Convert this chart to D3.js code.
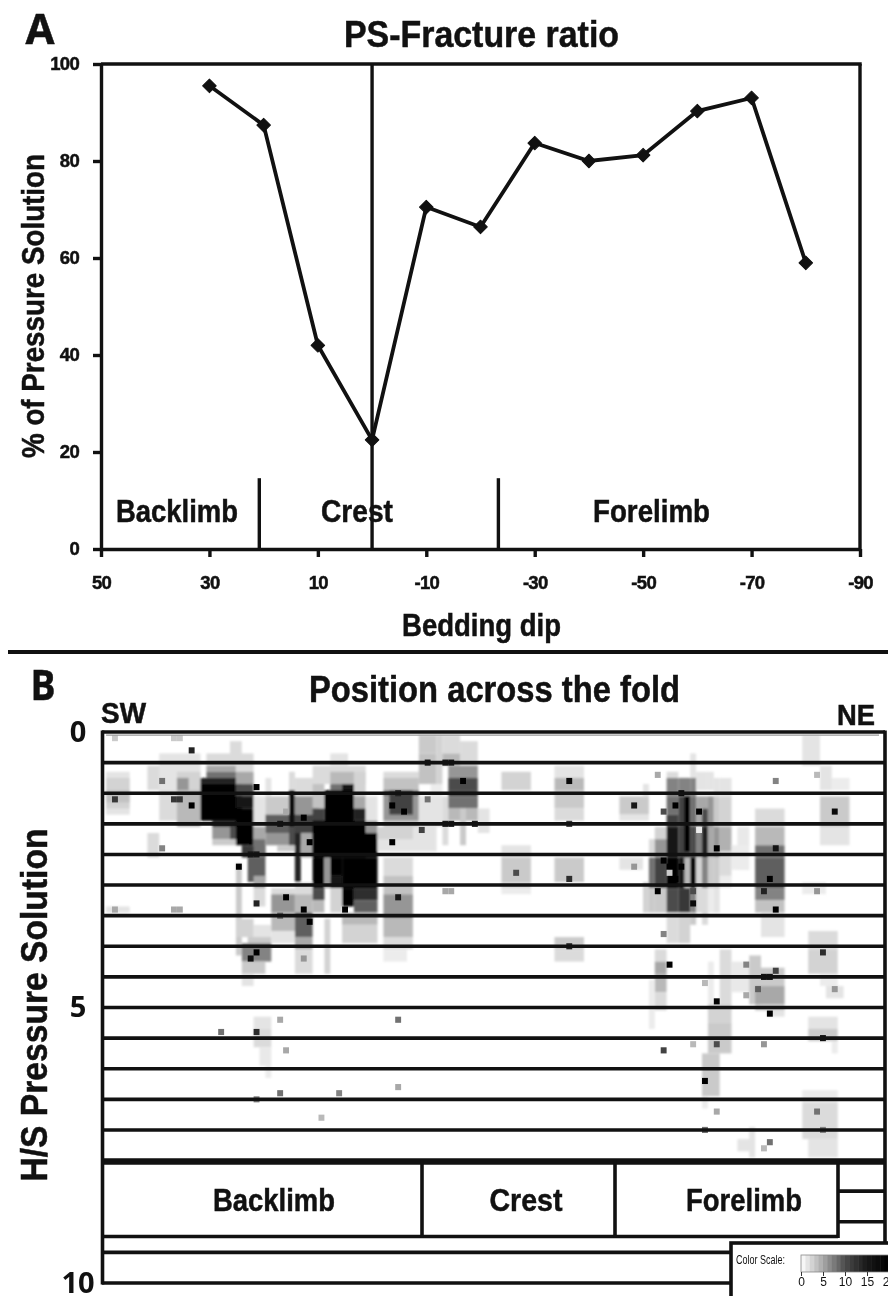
<!DOCTYPE html>
<html>
<head>
<meta charset="utf-8">
<script src="https://d3js.org/d3.v7.min.js"></script>
<style>
  html, body { margin: 0; padding: 0; background: #fff; }
  svg { display: block; filter: blur(0.4px); }
  text { font-family: "Liberation Sans", Arial, sans-serif; font-weight: bold; fill: #111; }
</style>
</head>
<body>
<div id="chart"></div>
<script>
// panel A
var dipValues = [30, 20, 10, 0, -10, -20, -30, -40, -50, -60, -70, -80];
var psPercent = [95.5, 87.4, 42, 22.5, 70.5, 66.4, 83.7, 80, 81.2, 90.3, 93, 59];
var dipTicks = [50, 30, 10, -10, -30, -50, -70, -90];
var percentTicks = [0, 20, 40, 60, 80, 100];
var limbBreaks = [20.8, -23.3];

// panel B, cells of the grid: first col, last col, first row, last row, count
var densityRuns = [
  [0,3,7,13,1.5],[0,3,8,12,2.5],[0,3,10,11,3.5],[0,3,29,29,1.5],
  [7,12,6,9,2],[9,15,4,9,1.5],[9,12,10,14,2],[12,15,7,9,2.5],[12,13,8,9,6],[12,15,10,15,4],[7,8,17,20,2],
  [21,22,2,5,2],[17,21,4,5,2],[17,21,6,6,5],[17,21,7,7,8],[16,22,8,8,14],
  [18,23,15,15,14],[18,23,16,17,6],[18,23,18,18,3],[21,22,16,17,10],
  [16,22,9,14,20],
  [22,24,4,6,2],[22,24,7,8,5],[22,24,9,10,10],[22,24,11,12,15],[22,24,13,18,20],[23,26,19,20,12],
  [25,26,11,15,1.5],[25,26,16,17,5],[25,26,18,20,8],[24,26,21,24,9],[25,26,24,25,5],[25,26,26,28,2],
  [22,22,22,36,3],[25,27,32,34,1.5],[22,24,31,33,2.5],[24,27,34,35,3],[23,27,35,37,7],[23,26,38,39,3],[23,24,40,41,1.5],
  [27,27,8,10,1.5],
  [27,30,11,13,3],[27,30,14,16,9],[27,30,17,18,6],[29,31,19,19,3],
  [31,31,7,9,2],[31,31,10,15,18],[31,32,16,18,10],
  [32,35,8,10,2],[32,35,11,13,6],[32,35,14,16,11],[32,32,17,24,14],[33,35,17,20,5],
  [28,31,26,26,2],[28,31,27,29,6],[28,31,30,32,4],[28,31,33,34,1.5],
  [32,34,25,26,2],[32,34,27,29,4],[32,34,30,33,9],[32,34,34,35,5],[32,34,36,39,2],
  [38,40,4,5,1.5],[35,43,6,8,2],[38,41,7,8,4],[38,41,9,9,8],[40,41,9,10,15],
  [42,43,7,10,2.5],[42,43,11,12,5],[42,43,13,14,14],[44,45,11,14,1.5],[44,45,15,16,6],[44,45,17,17,13],
  [35,36,9,12,3.5],[35,36,13,15,11],
  [37,41,10,15,20],[35,43,15,20,20],[35,45,17,20,20],
  [35,36,21,25,20],[37,37,21,25,6],[38,39,21,23,20],[38,39,24,25,15],[40,45,21,25,20],
  [35,36,26,27,10],[35,36,28,29,4],[40,41,26,28,20],[42,45,26,27,13],[42,45,28,29,9],
  [40,45,30,31,4],[40,45,32,34,2.5],[38,39,26,29,2.5],[37,37,31,39,2.5],
  [47,52,7,7,2],[47,52,8,9,3.5],[47,52,10,10,8],[47,52,11,14,6],[48,51,10,13,11],[47,52,15,15,3],
  [46,55,16,19,1.5],[46,51,16,17,2.5],
  [47,51,21,23,2],[47,51,24,26,3.5],[47,51,27,30,6],[47,51,31,33,4],[47,51,34,35,2],[47,50,36,37,1],
  [53,55,1,3,3],[53,55,4,8,3.5],[56,56,1,8,2.5],[55,56,9,10,1],
  [57,59,1,3,2],[57,59,4,5,4],[60,62,2,5,2],
  [53,56,11,15,1.5],[57,57,11,18,2],[63,64,13,16,1.5],
  [58,62,6,7,6],[58,62,8,9,10],[58,62,10,10,11],[58,62,11,12,8],[58,62,13,14,4],[60,60,13,18,3],
  [67,71,7,9,2.5],[67,71,19,20,1.5],[67,71,21,24,3],[67,71,25,25,2],[67,71,26,26,1],
  [76,80,6,7,1.5],[76,80,8,9,4],[76,80,10,12,3],[76,80,13,14,2],[76,80,21,24,3],[76,80,34,35,3],[76,80,36,37,2],
  [87,91,11,13,3],[87,91,14,14,1.5],[91,91,9,10,1.5],[87,90,21,22,1.5],
  [91,91,25,29,2.5],
  [92,92,18,20,2],[92,92,21,25,8],[92,92,26,29,3],
  [93,94,16,17,2.5],[93,94,18,20,6],[93,94,21,25,11],[93,94,26,29,3],
  [95,96,7,7,2],[95,96,8,10,7],[95,96,11,13,8],[95,96,14,15,11],[95,96,16,20,16],[95,96,21,25,20],[95,96,26,29,10],[95,96,30,34,2],
  [97,98,8,10,7],[97,98,11,15,11],[97,98,16,20,11],[97,98,21,25,16],[97,98,26,29,12],[97,98,30,34,2.5],
  [98,98,11,19,20],[98,98,21,25,4],
  [99,99,4,7,1.5],[99,99,8,10,7],[99,99,11,15,8],[99,99,16,20,10],[99,99,21,25,18],[99,99,26,29,7],[99,99,30,31,3],
  [100,100,7,9,1.5],[100,100,11,15,5],[100,100,16,20,7],[100,100,21,25,2.5],[100,100,26,29,2],
  [101,101,7,9,1.5],[101,101,11,12,5],[101,101,13,15,10],[101,101,16,20,14],[101,101,21,25,7],[101,101,26,31,2],
  [102,102,7,9,1.5],[102,102,11,15,6],[102,102,16,20,5],[102,102,21,25,3],[102,102,26,29,1],
  [103,103,8,10,1.5],[103,103,11,15,3],[103,103,16,20,6],[103,103,21,25,3],[103,103,26,29,1.5],
  [104,105,8,10,1.5],[104,105,11,15,2.5],[104,105,16,19,4.5],[104,105,20,23,2],[104,105,24,25,1],
  [107,108,16,22,1.2],[106,108,19,22,1],
  [110,114,13,15,2],[110,114,16,18,4],[110,114,19,20,8],[110,114,21,25,9],[110,114,26,27,7],[110,114,28,29,3.5],[111,114,30,33,1.5],
  [118,120,1,5,1.5],[121,122,6,9,1.5],[123,125,8,9,1],[121,125,11,15,3],[121,125,16,18,1.5],[118,121,25,26,1],
  [119,123,33,35,2],[119,123,36,39,2.5],[121,123,40,41,1],[122,124,42,43,1.5],
  [93,94,36,37,2],[93,94,38,39,5],[93,94,40,42,4],[93,94,43,45,2],[92,92,41,48,1],
  [102,102,38,45,1],[104,105,36,45,2],[106,109,38,42,1.2],[109,110,37,44,3],
  [110,114,39,41,3],[110,114,42,44,5],[110,114,45,45,3],[112,114,46,46,1.5],
  [119,123,47,48,1.5],[119,123,49,50,3],[123,123,51,52,1],
  [102,105,45,47,2.5],[102,105,48,52,3],[101,103,53,59,3],[101,101,60,61,1],
  [25,27,47,48,1.5],[25,27,49,51,2],[26,27,52,54,1.2],[27,27,55,56,1],
  [118,123,59,60,1],[118,123,61,66,2],[119,123,67,69,1.5],
  [109,109,65,69,1.5],[107,109,67,68,1.5]
];

// single samples: col, row, count
var sampleCells = [
  [1,1,3],[11,1,3],[12,1,3],[14,3,14],[9,8,8],[1,11,12],[11,11,12],[12,11,12],[14,12,20],[25,9,20],
  [30,13,5],[33,14,20],[29,15,16],[34,18,20],[9,19,7],[24,20,15],[25,20,15],[22,22,20],
  [1,29,5],[11,29,5],[12,29,5],[25,28,14],[30,27,20],[33,29,20],[34,31,20],[40,29,20],[29,30,9],
  [25,36,20],[24,37,17],[33,37,6],[48,12,20],[50,13,20],[49,10,14],[48,18,20],[53,16,11],[54,11,8],
  [54,5,16],[57,5,15],[58,5,15],[60,8,20],[57,15,15],[58,15,15],[62,15,15],[49,27,15],[57,26,5],[58,26,5],
  [78,8,18],[78,15,12],[78,24,13],[69,23,10],[78,35,14],[89,12,15],[89,22,6],[93,7,5],[94,13,10],
  [96,12,20],[97,10,18],[100,13,20],[100,16,1],[103,19,20],[94,21,20],[95,22,20],[97,22,20],[95,23,3],
  [96,24,20],[93,26,20],[99,28,18],[99,26,10],[94,33,7],[95,38,20],[113,8,7],[113,19,16],[112,24,20],
  [111,26,14],[113,29,20],[120,26,6],[120,7,4],[123,13,18],[121,36,13],[108,38,7],[113,39,11],[112,40,16],[111,40,16],
  [101,41,4],[108,43,5],[123,42,6],[110,42,9],[103,44,19],[112,46,20],
  [29,47,5],[49,47,8],[19,49,8],[25,49,13],[30,52,5],[94,52,11],[99,51,4],[103,51,10],[111,51,6],[121,50,16],
  [101,57,20],[29,59,8],[39,59,7],[49,58,5],[25,60,7],[36,63,4],[103,62,5],[120,62,8],[101,65,8],[121,65,7],
  [112,67,8],[111,68,4]
];

var hsTicks = [0, 5, 10];
var rowLines = [0,5,10,15,20,25,30,35,40,45,50,55,60,65];
var limbNames = ["Backlimb", "Crest", "Forelimb"];
var scaleStops = [0, 1, 5, 10, 15, 20];
var scaleGrays = ["#ffffff", "#ececec", "#a8a8a8", "#4c4c4c", "#181818", "#000000"];
var scaleTicks = [0, 5, 10, 15, 20];

var width = 888, height = 1296, ink = "#111";

var svg = d3.select("#chart").append("svg")
  .attr("width", width)
  .attr("height", height);

var defs = svg.append("defs");
defs.append("filter").attr("id", "soft").append("feGaussianBlur").attr("stdDeviation", 1.1);

// real text, width forced to what the picture has
function label(str, x, y, size, len, rotate, family) {
  var t = svg.append("text")
    .attr("transform", "translate(" + x + "," + y + ")" + (rotate ? " rotate(-90)" : ""))
    .attr("text-anchor", "middle")
    .attr("font-size", size)
    .attr("textLength", len)
    .attr("lengthAdjust", "spacingAndGlyphs")
    .attr("stroke", ink)
    .attr("stroke-width", 0.5)
    .text(str);
  if (family) t.style("font-family", family);
  return t;
}

/* ---------- panel A ---------- */
var xDip = d3.scaleLinear().domain([50, -90]).range([101, 860]);
var yPct = d3.scaleLinear().domain([0, 100]).range([549, 64]);

var xAxisA = svg.append("g")
  .attr("transform", "translate(0," + yPct(0) + ")")
  .call(d3.axisBottom(xDip).tickValues(dipTicks).tickFormat(String).tickSize(8).tickPadding(19).tickSizeOuter(0));

var yAxisA = svg.append("g")
  .attr("transform", "translate(" + xDip(50) + ",0)")
  .call(d3.axisLeft(yPct).tickValues(percentTicks).tickSize(8).tickPadding(14).tickSizeOuter(0));

[xAxisA, yAxisA].forEach(function(ax) {
  ax.selectAll("path, line").attr("stroke", ink).attr("stroke-width", 3.4);
  ax.selectAll("text").attr("font-size", 18.5).attr("fill", ink)
    .attr("stroke", ink).attr("stroke-width", 0.5).attr("letter-spacing", -0.7)
    .style("font-family", '"Liberation Sans", Arial, sans-serif').style("font-weight", "bold");
});

// frame and dividers
var frameA = svg.append("g").attr("stroke", ink).attr("stroke-width", 3.4);
frameA.append("line").attr("x1", xDip(50)).attr("x2", xDip(-90) + 1.7).attr("y1", yPct(100)).attr("y2", yPct(100));
frameA.append("line").attr("x1", xDip(-90)).attr("x2", xDip(-90)).attr("y1", yPct(100)).attr("y2", yPct(0));
frameA.append("line").attr("x1", xDip(0)).attr("x2", xDip(0)).attr("y1", yPct(100)).attr("y2", yPct(0));
frameA.selectAll(".limb").data(limbBreaks).enter().append("line")
  .attr("class", "limb")
  .attr("x1", function(d) { return xDip(d); })
  .attr("x2", function(d) { return xDip(d); })
  .attr("y1", yPct(14.6))
  .attr("y2", yPct(0));

var linePts = dipValues.map(function(d, i) { return [d, psPercent[i]]; });
var psLine = d3.line()
  .x(function(d) { return xDip(d[0]); })
  .y(function(d) { return yPct(d[1]); });

svg.append("path")
  .attr("d", psLine(linePts))
  .attr("fill", "none")
  .attr("stroke", ink)
  .attr("stroke-width", 3.8);

svg.selectAll(".marker").data(linePts).enter().append("path")
  .attr("class", "marker")
  .attr("d", d3.symbol().type(d3.symbolSquare).size(92))
  .attr("transform", function(d) { return "translate(" + xDip(d[0]) + "," + yPct(d[1]) + ") rotate(45)"; })
  .attr("fill", ink)
  .attr("stroke", ink)
  .attr("stroke-width", 1)
  .attr("stroke-linejoin", "round");

label("A", 40, 44, 41, 29, false, '"Open Sans", sans-serif');
label("PS-Fracture ratio", 481.5, 47, 36, 275);
label("% of Pressure Solution", 44, 306, 31, 304, true);
label("Backlimb", 177, 522, 31, 122);
label("Crest", 357, 522, 31, 72);
label("Forelimb", 651.5, 522, 31, 117);
label("Bedding dip", 481.5, 636, 30.5, 159);

// rule between the panels
svg.append("line").attr("x1", 8).attr("x2", width).attr("y1", 652).attr("y2", 652)
  .attr("stroke", ink).attr("stroke-width", 3.8);

/* ---------- panel B ---------- */
var xCol = d3.scaleLinear().domain([0, 131]).range([106.1, 879]);
var yRow = d3.scaleLinear().domain([0, 90]).range([732, 1283]);
var yHS = d3.scaleLinear().domain([0, 10]).range([732, 1283]);
var gray = d3.scaleLinear().domain(scaleStops).range(scaleGrays).clamp(true);

var heat = svg.append("g").attr("filter", "url(#soft)");

heat.selectAll(".run").data(densityRuns).enter().append("rect")
  .attr("class", "run")
  .attr("x", function(d) { return xCol(d[0]); })
  .attr("width", function(d) { return xCol(d[1] + 1) - xCol(d[0]); })
  .attr("y", function(d) { return yRow(d[2] - 0.5); })
  .attr("height", function(d) { return yRow(d[3] + 0.5) - yRow(d[2] - 0.5); })
  .attr("fill", function(d) { return gray(d[4]); });

var dots = svg.append("g");
dots.selectAll(".sample").data(sampleCells).enter().append("rect")
  .attr("class", "sample")
  .attr("x", function(d) { return xCol(d[0]); })
  .attr("width", xCol(1) - xCol(0))
  .attr("y", function(d) { return yRow(d[1] - 0.5); })
  .attr("height", yRow(1) - yRow(0))
  .attr("fill", function(d) { return gray(d[2]); });

// thin gray line under the top border
svg.append("line").attr("x1", xCol(0)).attr("x2", xCol(131)).attr("y1", yRow(0.5)).attr("y2", yRow(0.5))
  .attr("stroke", "#9a9a9a").attr("stroke-width", 1.3);

var frameB = svg.append("g").attr("stroke", ink).attr("stroke-width", 3.6).attr("fill", "none");
frameB.selectAll(".row").data(rowLines).enter().append("line")
  .attr("class", "row")
  .attr("x1", 102).attr("x2", 885)
  .attr("y1", function(d) { return yRow(d); })
  .attr("y2", function(d) { return yRow(d); });
// the last full row line is heavier
frameB.append("line").attr("x1", 102).attr("x2", 885).attr("y1", 1161.5).attr("y2", 1161.5).attr("stroke-width", 6.5);
frameB.append("line").attr("x1", 838).attr("x2", 885).attr("y1", yRow(75)).attr("y2", yRow(75));
frameB.append("line").attr("x1", 838).attr("x2", 885).attr("y1", yRow(80)).attr("y2", yRow(80));
frameB.append("line").attr("x1", 102).attr("x2", 731).attr("y1", yRow(85)).attr("y2", yRow(85));
frameB.append("line").attr("x1", 102).attr("x2", 731).attr("y1", yRow(90)).attr("y2", yRow(90));
frameB.append("line").attr("x1", 102.5).attr("x2", 102.5).attr("y1", 730.5).attr("y2", 1284.5);
frameB.append("line").attr("x1", 885).attr("x2", 885).attr("y1", 730.5).attr("y2", 1244);

// limb box
frameB.append("line").attr("x1", 102).attr("x2", 838).attr("y1", 1236.5).attr("y2", 1236.5);
frameB.append("line").attr("x1", 838).attr("x2", 838).attr("y1", 1160).attr("y2", 1238);
frameB.append("line").attr("x1", 422).attr("x2", 422).attr("y1", 1160).attr("y2", 1238);
frameB.append("line").attr("x1", 615).attr("x2", 615).attr("y1", 1160).attr("y2", 1238);

var yAxisB = svg.append("g")
  .attr("transform", "translate(102,0)")
  .call(d3.axisLeft(yHS).tickValues(hsTicks).tickSize(0).tickPadding(0));
yAxisB.select(".domain").remove();
yAxisB.selectAll("text")
  .attr("x", -24)
  .attr("text-anchor", "middle")
  .attr("font-size", 29)
  .attr("fill", ink)
  .style("font-family", '"Open Sans", sans-serif')
  .style("font-weight", "bold");

label("B", 43, 700, 41, 25, false, '"Open Sans", sans-serif');
label("Position across the fold", 494.5, 702, 36, 371);
label("SW", 123.5, 723, 29, 45);
label("NE", 856, 725, 29, 38);
label("H/S Pressure Solution", 47, 1005, 36, 353, true);
limbNames.forEach(function(name, i) {
  label(name, [274, 526, 744][i], 1211, 32, [122, 73, 116][i]);
});

/* ---------- colour scale box ---------- */
var xScale = d3.scaleLinear().domain([0, 20]).range([801, 889]);

svg.append("rect")
  .attr("x", 731).attr("y", 1243)
  .attr("width", 170).attr("height", 70)
  .attr("fill", "#fff").attr("stroke", ink).attr("stroke-width", 3.6);

label("Color Scale:", 760.5, 1264, 13, 49, false, '"Liberation Sans Narrow", "Liberation Sans", sans-serif')
  .attr("stroke", "none").style("font-weight", "normal");

svg.selectAll(".swatch").data(d3.range(0, 20, 1)).enter().append("rect")
  .attr("class", "swatch")
  .attr("x", function(d) { return xScale(d); })
  .attr("y", 1255)
  .attr("width", xScale(1) - xScale(0) + 0.5)
  .attr("height", 17)
  .attr("fill", function(d) { return gray(d + 0.5); });

svg.append("rect").attr("x", 801).attr("y", 1255).attr("width", 90).attr("height", 17)
  .attr("fill", "none").attr("stroke", "#888").attr("stroke-width", 0.8);

var scaleAxis = svg.append("g")
  .attr("transform", "translate(0,1272)")
  .call(d3.axisBottom(xScale).tickValues(scaleTicks).tickSize(4).tickPadding(1));
scaleAxis.select(".domain").remove();
scaleAxis.selectAll("line").attr("stroke", "#333");
scaleAxis.selectAll("text")
  .attr("font-size", 12)
  .attr("fill", "#222")
  .style("font-family", '"Liberation Sans Narrow", "Liberation Sans", sans-serif')
  .style("font-weight", "normal");
</script>
</body>
</html>
